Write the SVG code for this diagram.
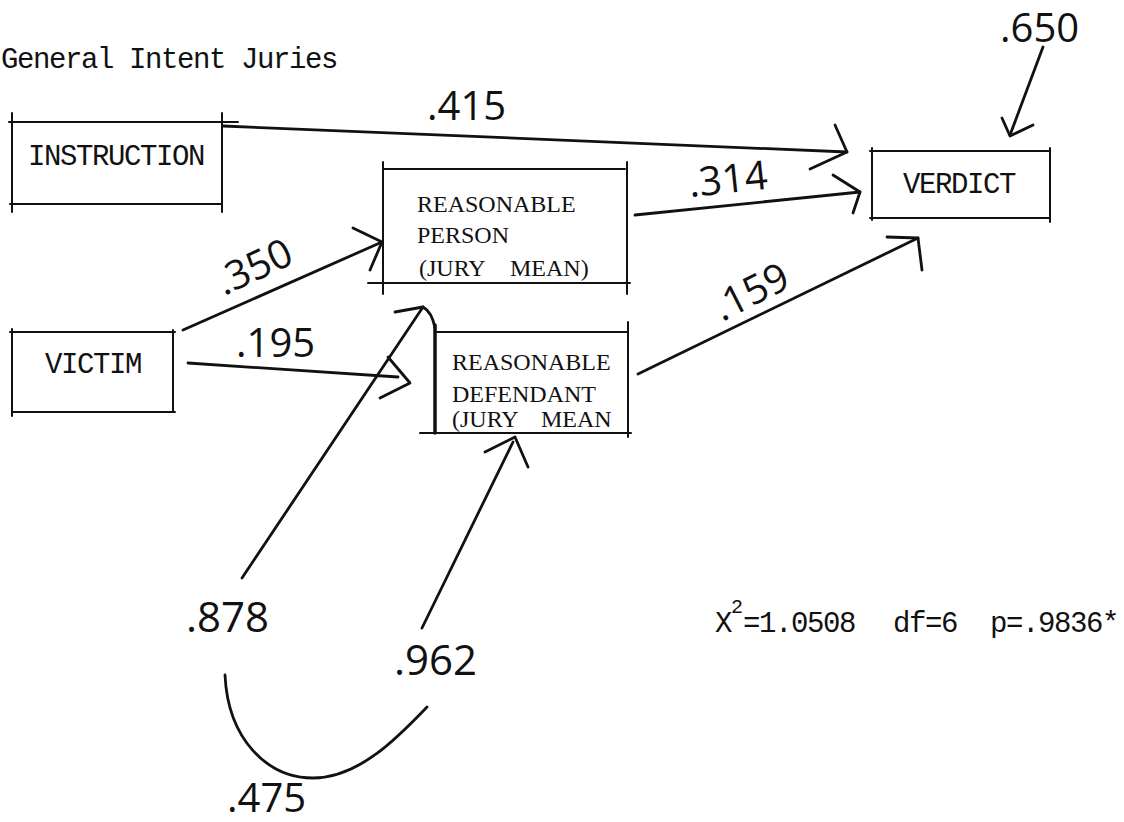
<svg xmlns="http://www.w3.org/2000/svg" width="1124" height="822" viewBox="0 0 1124 822">
<style>
.bg{fill:#ffffff}
.box line{stroke:#111;stroke-width:2;stroke-linecap:round}
.mono{font-family:"Liberation Mono","DejaVu Sans Mono",monospace;font-size:29px;letter-spacing:-1.4px;fill:#111}
.serif{font-family:"Liberation Serif","DejaVu Serif",serif;font-size:24px;fill:#111}
.hand{font-family:"Open Sans","DejaVu Sans",sans-serif;font-size:40px;fill:#111}
.pen{fill:none;stroke:#111;stroke-width:2.8;stroke-linecap:round;stroke-linejoin:round}
</style>
<rect class="bg" x="0" y="0" width="1124" height="822"/>
<text class="mono" x="1" y="68">General Intent Juries</text>

<g id="instruction" class="box">
  <line x1="9" y1="122" x2="238" y2="122"/>
  <line x1="10" y1="204" x2="222" y2="204"/>
  <line x1="12" y1="113" x2="12" y2="212"/>
  <line x1="222" y1="113" x2="222" y2="212"/>
  <text class="mono" x="28" y="165">INSTRUCTION</text>
</g>

<g id="reasonable-person" class="box">
  <line x1="383" y1="169" x2="625" y2="169"/>
  <line x1="368" y1="283" x2="630" y2="283"/>
  <line x1="383" y1="162" x2="383" y2="294"/>
  <line x1="627" y1="162" x2="627" y2="294"/>
  <text class="serif" x="417" y="212">REASONABLE</text>
  <text class="serif" x="417" y="243">PERSON</text>
  <text class="serif" y="276"><tspan x="419">(JURY</tspan><tspan x="510">MEAN)</tspan></text>
</g>

<g id="reasonable-defendant" class="box">
  <line x1="435" y1="332" x2="628" y2="332"/>
  <line x1="420" y1="433" x2="631" y2="433"/>
  <line x1="435" y1="325" x2="435" y2="433" style="stroke-width:3.5"/>
  <line x1="628" y1="322" x2="628" y2="437"/>
  <text class="serif" x="452" y="370">REASONABLE</text>
  <text class="serif" x="452" y="402">DEFENDANT</text>
  <text class="serif" y="427"><tspan x="452">(JURY</tspan><tspan x="541">MEAN</tspan></text>
</g>

<g id="verdict" class="box">
  <line x1="870" y1="151" x2="1050" y2="151"/>
  <line x1="870" y1="218" x2="1050" y2="218"/>
  <line x1="872" y1="148" x2="872" y2="220"/>
  <line x1="1050" y1="148" x2="1050" y2="222"/>
  <text class="mono" x="903" y="193">VERDICT</text>
</g>

<g id="victim" class="box">
  <line x1="10" y1="332" x2="175" y2="332"/>
  <line x1="12" y1="412" x2="175" y2="412"/>
  <line x1="12" y1="329" x2="12" y2="416"/>
  <line x1="173" y1="330" x2="173" y2="412"/>
  <text class="mono" x="45" y="373">VICTIM</text>
</g>

<g id="connectors">
  <path class="pen" d="M223,126 L847,152"/>
  <path class="pen" d="M835,125 L847,152 L810,169"/>
  <path class="pen" d="M635,215 L860,192"/>
  <path class="pen" d="M833,175 L860,192 L853,213"/>
  <path class="pen" d="M183,330 L382,242"/>
  <path class="pen" d="M353,228 L382,242 L370,270"/>
  <path class="pen" d="M188,363 L398,377"/>
  <path class="pen" d="M388,357 L410,383 L380,398"/>
  <path class="pen" d="M638,374 L918,238"/>
  <path class="pen" d="M887,237 L918,238 L922,270"/>
  <path class="pen" d="M1043,47 L1010,135"/>
  <path class="pen" d="M1002,118 L1010,136 L1033,125"/>
  <path class="pen" d="M242,578 L423,307"/>
  <path class="pen" d="M395,312 L423,307 Q432,312 435,328"/>
  <path class="pen" d="M422,628 L513,442"/>
  <path class="pen" d="M485,452 L515,437 L528,467"/>
  <path class="pen" d="M225,675 C228,740 268,778 313,778 C360,778 400,735 427,707"/>
</g>

<g id="labels">
  <text class="hand" x="427" y="120">.415</text>
  <text class="hand" transform="translate(690,197) rotate(-6)">.314</text>
  <text class="hand" transform="translate(224,296) rotate(-25)">.350</text>
  <text class="hand" x="236" y="357">.195</text>
  <text class="hand" transform="translate(722,322) rotate(-27)">.159</text>
  <text class="hand" x="1000" y="42">.650</text>
  <text class="hand" x="186" y="632" style="font-size:42px">.878</text>
  <text class="hand" x="394" y="675" style="font-size:42px">.962</text>
  <text class="hand" x="227" y="812" style="font-size:40px">.475</text>
</g>

<g id="fit">
  <text class="mono" x="715" y="632">X</text>
  <text class="mono" style="font-size:20px;letter-spacing:0" x="731" y="613">2</text>
  <text class="mono" x="743" y="632">=1.0508</text>
  <text class="mono" x="893" y="632">df=6</text>
  <text class="mono" x="990" y="632">p=.9836*</text>
</g>
</svg>
